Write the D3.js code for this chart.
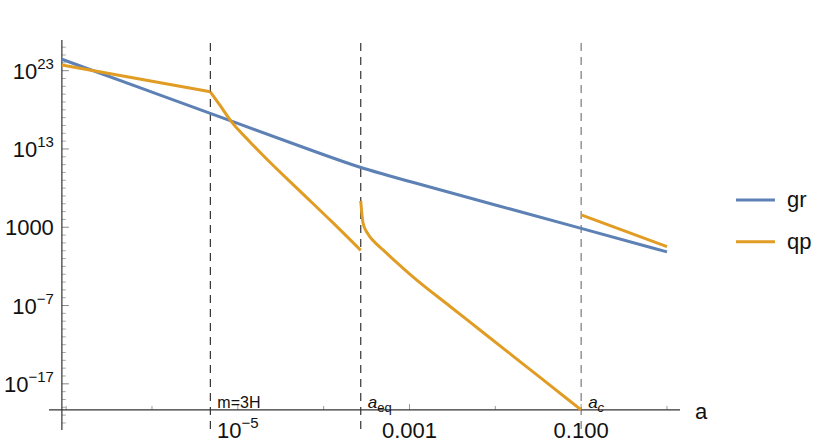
<!DOCTYPE html>
<html>
<head>
<meta charset="utf-8">
<script src="https://cdn.jsdelivr.net/npm/d3@7"></script>
<style>
  body { margin: 0; background: #fff; }
  svg { font-family: "Liberation Sans", Arial, sans-serif; }
</style>
</head>
<body>
<div id="chart"></div>
<script>
// values are log10 exponents

// gr (blue)
var grLogA = [-7.05, -6, -5, -4.2, -3.59, -3, -2, -1, 0];
var grLogV = [24.46, 20.26, 16.26, 13.06, 10.62, 8.85, 5.85, 2.85, -0.15];

// qp (orange), four pieces
var qp1LogA = [-7.05, -5.32];
var qp1LogV = [23.73, 20.3];
var qp2LogA = [-5.32, -5.211, -5.075, -4.861, -4.667, -4.279, -3.89, -3.568];
var qp2LogV = [20.3, 18.62, 16.49, 13.93, 11.75, 7.65, 3.55, 0.05];
var qp3LogA = [-3.568, -3.541, -3.49, -3.424, -3.308, -2.918, -2.53, -2.142, -1.753, -1.365, -1.0];
var qp3LogV = [6.36, 3.51, 2.25, 1.3, 0.1, -3.73, -7.09, -10.44, -13.81, -17.17, -20.33];
var qp4LogA = [-1.0, 0];
var qp4LogV = [4.57, 0.52];

// markers
var markerLogA = [-5.32, -3.568, -1];
var markerMain = ["m=3H", "a", "a"];
var markerSub = ["", "eq", "c"];
var markerItalic = [false, true, true];
var markerSubItalic = [false, false, true];

// ticks
var yTickExps = [23, 13, 3, -7, -17];
var yTickLabels = [["10", "23"], ["10", "13"], ["1000", ""], ["10", "\u22127"], ["10", "\u221217"]];
var xTickExps = [-5, -3, -1];
var xTickLabels = [["10", "\u22125"], ["0.001", ""], ["0.100", ""]];

var seriesNames = ["gr", "qp"];
var seriesColors = ["#5e81b5", "#e19c24"];

var width = 830, height = 445;

var svg = d3.select("#chart").append("svg")
    .attr("width", width)
    .attr("height", height);

var x = d3.scaleLog()
    .domain([Math.pow(10, -7.2), Math.pow(10, 0.14)])
    .range([49, 679]);
var y = d3.scaleLog()
    .domain([Math.pow(10, -22.9), Math.pow(10, 26.92)])
    .range([430, 40]);

var xAxisY = y(Math.pow(10, -20.34));
var yAxisX = x(Math.pow(10, -7.05));

function pts(la, lv) {
    return la.map(function (d, i) { return [Math.pow(10, d), Math.pow(10, lv[i])]; });
}

var line = d3.line()
    .x(function (d) { return x(d[0]); })
    .y(function (d) { return y(d[1]); })
    .curve(d3.curveMonotoneX);

var smoothLine = d3.line()
    .x(function (d) { return x(d[0]); })
    .y(function (d) { return y(d[1]); })
    .curve(d3.curveBasis);

// dashed marker lines
svg.append("g")
    .selectAll("line")
    .data(markerLogA)
    .enter()
    .append("line")
    .attr("x1", function (d) { return x(Math.pow(10, d)); })
    .attr("x2", function (d) { return x(Math.pow(10, d)); })
    .attr("y1", 43)
    .attr("y2", 430)
    .attr("stroke", function (d, i) { return i == 2 ? "#7a7a7a" : "#333"; })
    .attr("stroke-width", 1.2)
    .attr("stroke-dasharray", "8,6");

// y axis: minor ticks every decade, major every 10
var yMinor = d3.range(-22, 27);
svg.append("g")
    .selectAll("line")
    .data(yMinor)
    .enter()
    .append("line")
    .attr("x1", yAxisX)
    .attr("x2", function (d) { return yAxisX + (yTickExps.indexOf(d) >= 0 ? 7 : 4); })
    .attr("y1", function (d) { return y(Math.pow(10, d)); })
    .attr("y2", function (d) { return y(Math.pow(10, d)); })
    .attr("stroke", function (d) { return yTickExps.indexOf(d) >= 0 ? "#888" : "#aaa"; })
    .attr("stroke-width", 1);

svg.append("line")
    .attr("x1", yAxisX).attr("x2", yAxisX)
    .attr("y1", 40).attr("y2", 430)
    .attr("stroke", "#333").attr("stroke-width", 1.2);

// x axis ticks
var xMinor = d3.range(-7, 1);
svg.append("g")
    .selectAll("line")
    .data(xMinor)
    .enter()
    .append("line")
    .attr("x1", function (d) { return x(Math.pow(10, d)); })
    .attr("x2", function (d) { return x(Math.pow(10, d)); })
    .attr("y1", xAxisY)
    .attr("y2", function (d) { return xAxisY - (xTickExps.indexOf(d) >= 0 ? 6 : 4); })
    .attr("stroke", "#999");

svg.append("line")
    .attr("x1", 49).attr("x2", 680)
    .attr("y1", xAxisY).attr("y2", xAxisY)
    .attr("stroke", "#333").attr("stroke-width", 1.2);

// y tick labels
var yl = svg.append("g")
    .selectAll("text")
    .data(yTickExps)
    .enter()
    .append("text")
    .attr("x", yAxisX - 8)
    .attr("y", function (d) { return y(Math.pow(10, d)) + 8; })
    .attr("text-anchor", "end")
    .attr("font-size", "22px")
    .attr("fill", "#111");
yl.append("tspan").text(function (d, i) { return yTickLabels[i][0]; });
yl.append("tspan")
    .attr("font-size", "15px")
    .attr("dy", "-10")
    .text(function (d, i) { return yTickLabels[i][1]; });

// x tick labels
var xl = svg.append("g")
    .selectAll("text")
    .data(xTickExps)
    .enter()
    .append("text")
    .attr("x", function (d) { return x(Math.pow(10, d)); })
    .attr("y", 438)
    .attr("text-anchor", "middle")
    .attr("font-size", "22px")
    .attr("fill", "#111");
xl.append("tspan").text(function (d, i) { return xTickLabels[i][0]; });
xl.append("tspan")
    .attr("font-size", "15px")
    .attr("dy", "-10")
    .text(function (d, i) { return xTickLabels[i][1]; });

// axis label
svg.append("text")
    .attr("x", 695)
    .attr("y", 419)
    .attr("font-size", "22px")
    .attr("fill", "#111")
    .text("a");

// marker labels
var ml = svg.append("g")
    .selectAll("text")
    .data(markerLogA)
    .enter()
    .append("text")
    .attr("x", function (d) { return x(Math.pow(10, d)) + 7; })
    .attr("y", 408)
    .attr("font-size", "16px")
    .attr("fill", "#111");
ml.append("tspan")
    .attr("font-style", function (d, i) { return markerItalic[i] ? "italic" : "normal"; })
    .attr("font-size", function (d, i) { return markerItalic[i] ? "17px" : "16px"; })
    .text(function (d, i) { return markerMain[i]; });
ml.append("tspan")
    .attr("font-size", "13px")
    .attr("font-style", function (d, i) { return markerSubItalic[i] ? "italic" : "normal"; })
    .attr("dy", "4")
    .text(function (d, i) { return markerSub[i]; });

// curves
var plot = svg.append("g")
    .attr("fill", "none")
    .attr("stroke-width", 3)
    .attr("stroke-linejoin", "round");

plot.append("path")
    .attr("d", smoothLine(pts(grLogA, grLogV)))
    .attr("stroke", seriesColors[0]);

[[qp1LogA, qp1LogV], [qp2LogA, qp2LogV], [qp3LogA, qp3LogV], [qp4LogA, qp4LogV]].forEach(function (s) {
    plot.append("path")
        .attr("d", line(pts(s[0], s[1])))
        .attr("stroke", seriesColors[1]);
});

// legend
var lg = svg.append("g")
    .selectAll("g")
    .data(seriesNames)
    .enter()
    .append("g")
    .attr("transform", function (d, i) { return "translate(736," + (200 + i * 41.7) + ")"; });
lg.append("line")
    .attr("x1", 0).attr("x2", 39)
    .attr("stroke", function (d, i) { return seriesColors[i]; })
    .attr("stroke-width", 3);
lg.append("text")
    .attr("x", 51)
    .attr("y", 7)
    .attr("font-size", "22px")
    .attr("fill", "#111")
    .text(function (d) { return d; });
</script>
</body>
</html>
